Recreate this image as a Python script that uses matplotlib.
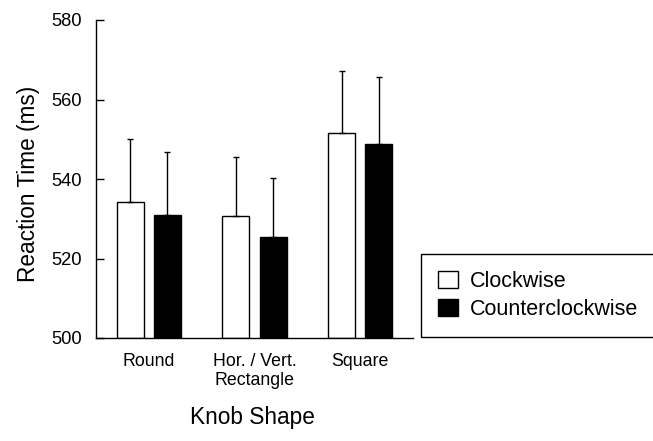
import numpy as np
import matplotlib
matplotlib.use("Agg")
import matplotlib.pyplot as plt

plt.rcParams["font.family"] = ["Liberation Sans", "DejaVu Sans"]

# Data
shapes = ["Round", "Hor. / Vert.\nRectangle", "Square"]
clockwise = [534.3, 530.8, 551.6]
clockwise_err = [15.8, 14.8, 15.5]
counter = [531.0, 525.3, 548.9]
counter_err = [15.9, 15.0, 16.8]

fig = plt.figure(figsize=(6.53, 4.41), dpi=100)
ax = fig.add_axes([96 / 653, 1 - 338 / 441, 317 / 653, 318 / 441])

x = np.arange(len(shapes))
width = 0.255
offset = 0.176

err_style = dict(ecolor="black", elinewidth=1.0, capsize=2.5, capthick=1.0)

ax.bar(x - offset, np.array(clockwise) - 500, width, bottom=500,
       color="white", edgecolor="black", linewidth=1.0, label="Clockwise",
       yerr=[np.zeros(3), clockwise_err], error_kw=err_style, zorder=2)
ax.bar(x + offset, np.array(counter) - 500, width, bottom=500,
       color="black", edgecolor="black", linewidth=1.0, label="Counterclockwise",
       yerr=[np.zeros(3), counter_err], error_kw=err_style, zorder=2)

ax.set_xlim(-0.5, 2.5)
ax.set_ylim(500, 580)
ax.set_yticks([500, 520, 540, 560, 580])
ax.set_xticks(x)
ax.set_xticklabels(shapes, fontsize=12.8, linespacing=1.1)

ax.spines["top"].set_visible(False)
ax.spines["right"].set_visible(False)
for s in ["left", "bottom"]:
    ax.spines[s].set_linewidth(1.0)

ax.tick_params(axis="y", direction="in", length=6, width=1.0, pad=10, labelsize=13.2)
ax.tick_params(axis="x", length=0, pad=11)

ax.set_ylabel("Reaction Time (ms)", fontsize=16.3)
ax.yaxis.set_label_coords(-0.177, 0.484)
ax.set_xlabel("Knob Shape", fontsize=16.3)
ax.xaxis.set_label_coords(0.495, -0.215)

leg = fig.legend(loc="lower left", bbox_to_anchor=(421 / 653, 1 - 337 / 441),
                 fontsize=15.5, frameon=True, fancybox=False, edgecolor="black",
                 framealpha=1, borderpad=0.8, handlelength=0.9, handleheight=0.85,
                 handletextpad=0.55, labelspacing=0.3, borderaxespad=0)
leg.get_frame().set_linewidth(1.0)

fig.savefig("out.png", dpi=100)
